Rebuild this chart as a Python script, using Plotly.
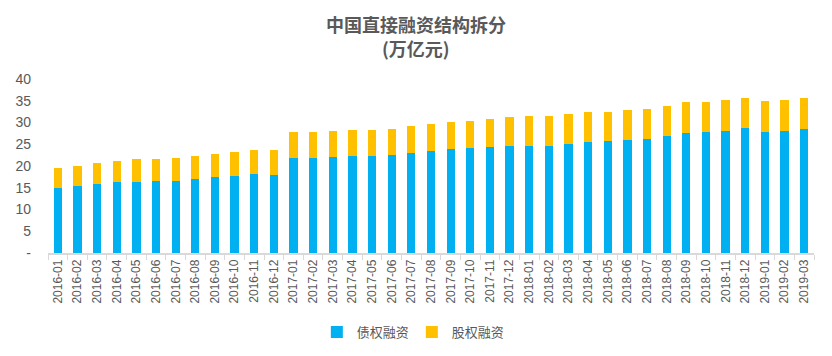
import plotly.graph_objects as go

months = ["2016-01","2016-02","2016-03","2016-04","2016-05","2016-06","2016-07","2016-08","2016-09","2016-10","2016-11","2016-12",
          "2017-01","2017-02","2017-03","2017-04","2017-05","2017-06","2017-07","2017-08","2017-09","2017-10","2017-11","2017-12",
          "2018-01","2018-02","2018-03","2018-04","2018-05","2018-06","2018-07","2018-08","2018-09","2018-10","2018-11","2018-12",
          "2019-01","2019-02","2019-03"]
debt = [15.0,15.5,15.9,16.4,16.4,16.6,16.6,17.1,17.4,17.6,18.1,17.9,
        21.9,21.9,22.1,22.4,22.4,22.5,23.0,23.4,23.8,24.1,24.4,24.5,
        24.7,24.7,25.1,25.6,25.8,26.0,26.3,26.9,27.7,27.9,28.1,28.8,
        27.9,28.1,28.6]
total = [19.6,20.0,20.7,21.2,21.5,21.7,21.9,22.4,22.8,23.3,23.7,23.7,
         27.9,27.9,28.1,28.3,28.3,28.6,29.3,29.7,30.2,30.4,30.9,31.3,
         31.4,31.6,32.0,32.5,32.5,32.9,33.2,33.9,34.6,34.8,35.2,35.7,
         35.0,35.2,35.7]
equity = [round(t - d, 2) for t, d in zip(total, debt)]
ytick_vals = [0, 5, 10, 15, 20, 25, 30, 35, 40]
ytick_text = ["-", "5", "10", "15", "20", "25", "30", "35", "40"]

font_cjk = "Noto Sans CJK SC"
gray = "#595959"

fig = go.Figure()
fig.add_trace(go.Bar(x=months, y=debt, name="债权融资", marker=dict(color="#00B0F0", line=dict(width=0)), width=0.42))
fig.add_trace(go.Bar(x=months, y=equity, name="股权融资", marker=dict(color="#FFC000", line=dict(width=0)), width=0.42))

fig.update_layout(
    barmode="stack",
    width=832, height=356,
    margin=dict(l=48, r=18, t=79, b=103, autoexpand=False),
    plot_bgcolor="white", paper_bgcolor="white",
    font=dict(family="Arial, Liberation Sans, sans-serif", color=gray),
    showlegend=True,
    legend=dict(orientation="h", x=0.475, xanchor="center", y=-0.455, yanchor="middle",
                font=dict(family=font_cjk, size=13, color=gray), itemwidth=30,
                entrywidth=50, traceorder="normal"),
    xaxis=dict(type="category", tickangle=-90, tickfont=dict(size=12, color=gray),
               showline=True, linecolor="#D9D9D9", linewidth=1.5,
               ticks="outside", tickson="boundaries", ticklen=5, tickcolor="#D9D9D9",
               showgrid=False, automargin=False),
    yaxis=dict(range=[0, 40], tickvals=ytick_vals, ticktext=ytick_text,
               tickfont=dict(size=14, color=gray), showgrid=False, showline=False,
               zeroline=False, ticks="", automargin=False, ticklabelstandoff=16),
    annotations=[
        dict(text="<b>中国直接融资结构拆分</b>", x=0.4804, y=1.316, xref="paper", yref="paper",
             showarrow=False, xanchor="center", yanchor="middle",
             font=dict(family=font_cjk, size=18, color=gray)),
        dict(text="<b>(万亿元)</b>", x=0.4804, y=1.178, xref="paper", yref="paper",
             showarrow=False, xanchor="center", yanchor="middle",
             font=dict(family=font_cjk, size=18, color=gray)),
    ],
)

fig.write_html("out.html", post_script="document.body.style.margin='0';",
               config={"displayModeBar": False})
